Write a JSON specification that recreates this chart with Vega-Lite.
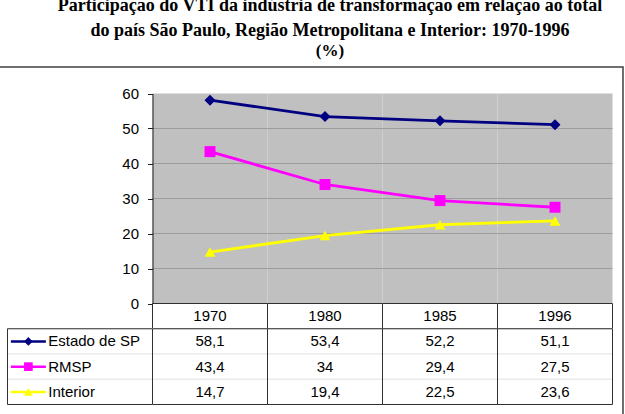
{
  "$schema": "https://vega.github.io/schema/vega-lite/v6.json",
  "width": 626,
  "height": 352,
  "autosize": "none",
  "padding": {"left": -3, "top": 67, "right": 2, "bottom": -5},
  "background": "white",
  "view": {"stroke": "#404040", "strokeWidth": 1.5, "fill": "white"},
  "title": {
    "text": ["Participação do VTI da indústria de transformação em relação ao total", "do país São Paulo, Região Metropolitana e Interior: 1970-1996"],
    "subtitle": "(%)",
    "anchor": "middle",
    "frame": "group",
    "dx": 20,
    "font": "Liberation Serif",
    "fontSize": 18,
    "fontWeight": "bold",
    "color": "black",
    "lineHeight": 25,
    "subtitleFont": "Liberation Serif",
    "subtitleFontSize": 17,
    "subtitleFontWeight": "bold",
    "subtitleColor": "black",
    "subtitlePadding": 3,
    "offset": 8
  },
  "config": {
    "locale": {"number": {"decimal": ",", "thousands": ".", "grouping": [3], "currency": ["R$", ""]}},
    "font": "Liberation Sans"
  },
  "datasets": {
    "vals": [
      {"year": "1970", "series": "Estado de SP", "value": 58.1},
      {"year": "1980", "series": "Estado de SP", "value": 53.4},
      {"year": "1985", "series": "Estado de SP", "value": 52.2},
      {"year": "1996", "series": "Estado de SP", "value": 51.1},
      {"year": "1970", "series": "RMSP", "value": 43.4},
      {"year": "1980", "series": "RMSP", "value": 34},
      {"year": "1985", "series": "RMSP", "value": 29.4},
      {"year": "1996", "series": "RMSP", "value": 27.5},
      {"year": "1970", "series": "Interior", "value": 14.7},
      {"year": "1980", "series": "Interior", "value": 19.4},
      {"year": "1985", "series": "Interior", "value": 22.5},
      {"year": "1996", "series": "Interior", "value": 23.6}
    ],
    "years": [{"year": "1970"}, {"year": "1980"}, {"year": "1985"}, {"year": "1996"}],
    "series": [{"series": "Estado de SP"}, {"series": "RMSP"}, {"series": "Interior"}],
    "grid": [{"v": 10}, {"v": 20}, {"v": 30}, {"v": 40}, {"v": 50}],
    "one": [{"id": 1}]
  },
  "layer": [
    {
      "layer": [
        {
          "data": {"name": "years"},
          "mark": {"type": "rect", "fill": "#c0c0c0"},
          "encoding": {
            "x": {"field": "year", "type": "ordinal", "scale": {"type": "band", "domain": ["1970", "1980", "1985", "1996"], "range": [155.5, 615.5], "paddingInner": 0, "paddingOuter": 0}, "axis": null},
            "y": {"datum": 0, "type": "quantitative", "title": null, "scale": {"domain": [0, 60], "range": [236.5, 26.5], "nice": false, "zero": true},
              "axis": {"title": null, "values": [0, 10, 20, 30, 40, 50, 60], "offset": -155.5, "grid": false, "zindex": 1, "domainColor": "#202020", "domainWidth": 1, "tickColor": "#202020", "tickSize": 5, "labelFont": "Liberation Sans", "labelFontSize": 15, "labelColor": "black", "labelPadding": 9}},
            "y2": {"datum": 60}
          }
        },
        {
          "data": {"name": "grid"},
          "mark": {"type": "rule", "color": "#9c9c9c", "strokeWidth": 1},
          "encoding": {
            "x": {"datum": "1970", "type": "ordinal", "bandPosition": 0},
            "x2": {"datum": "1996", "bandPosition": 1},
            "y": {"field": "v", "type": "quantitative", "title": null}
          }
        },
        {
          "data": {"name": "vals"},
          "mark": {"type": "line", "strokeWidth": 2.8},
          "encoding": {
            "x": {"field": "year", "type": "ordinal"},
            "y": {"field": "value", "type": "quantitative", "title": null},
            "color": {"field": "series", "type": "nominal", "scale": {"domain": ["Estado de SP", "RMSP", "Interior"], "range": ["#000080", "#ff00ff", "#ffff00"]}, "legend": null}
          }
        },
        {
          "data": {"name": "vals"},
          "mark": {"type": "point", "filled": true, "opacity": 1, "size": 120},
          "encoding": {
            "x": {"field": "year", "type": "ordinal"},
            "y": {"field": "value", "type": "quantitative", "title": null},
            "color": {"field": "series", "type": "nominal", "legend": null},
            "shape": {"field": "series", "type": "nominal", "scale": {"domain": ["Estado de SP", "RMSP", "Interior"], "range": ["diamond", "square", "triangle-up"]}, "legend": null}
          }
        }
      ]
    },
    {
      "layer": [
        {
          "layer": [
            {
              "data": {"name": "years"},
              "mark": {"type": "rect", "fill": "white", "stroke": "#303030", "strokeWidth": 1},
              "encoding": {
                "x": {"field": "year", "type": "ordinal", "scale": {"type": "band", "domain": ["1970", "1980", "1985", "1996"], "range": [155.5, 615.5], "paddingInner": 0, "paddingOuter": 0}, "axis": null},
                "y": {"datum": "header", "type": "nominal", "scale": {"type": "band", "domain": ["header", "Estado de SP", "RMSP", "Interior"], "range": [236.5, 337.5], "paddingInner": 0, "paddingOuter": 0}, "axis": null}
              }
            },
            {
              "data": {"name": "vals"},
              "mark": {"type": "rect", "fill": "white", "stroke": "#e6e6e6", "strokeWidth": 1},
              "encoding": {
                "x": {"field": "year", "type": "ordinal"},
                "y": {"field": "series", "type": "nominal"}
              }
            },
            {
              "data": {"name": "years"},
              "mark": {"type": "rect", "fill": null, "fillOpacity": 0, "stroke": "#303030", "strokeWidth": 1},
              "encoding": {
                "x": {"field": "year", "type": "ordinal"},
                "y": {"datum": "Estado de SP", "type": "nominal", "bandPosition": 0},
                "y2": {"datum": "Interior", "bandPosition": 1}
              }
            },
            {
              "data": {"name": "years"},
              "mark": {"type": "text", "font": "Liberation Sans", "fontSize": 15, "color": "black", "baseline": "middle"},
              "encoding": {
                "x": {"field": "year", "type": "ordinal"},
                "y": {"datum": "header", "type": "nominal"},
                "text": {"field": "year"}
              }
            },
            {
              "data": {"name": "vals"},
              "mark": {"type": "text", "font": "Liberation Sans", "fontSize": 15, "color": "black", "baseline": "middle"},
              "encoding": {
                "x": {"field": "year", "type": "ordinal"},
                "y": {"field": "series", "type": "nominal"},
                "text": {"field": "value", "type": "quantitative", "format": ".1~f"}
              }
            }
          ]
        },
        {
          "layer": [
            {
              "data": {"name": "series"},
              "mark": {"type": "rect", "fill": "white", "stroke": "#e6e6e6", "strokeWidth": 1},
              "encoding": {
                "x": {"datum": "legend", "type": "nominal", "scale": {"type": "band", "domain": ["legend"], "range": [10.5, 155.5], "paddingInner": 0, "paddingOuter": 0}, "axis": null},
                "y": {"field": "series", "type": "nominal"}
              }
            },
            {
              "data": {"name": "one"},
              "mark": {"type": "rect", "fill": null, "fillOpacity": 0, "stroke": "#303030", "strokeWidth": 1},
              "encoding": {
                "x": {"datum": "legend", "type": "nominal"},
                "y": {"datum": "Estado de SP", "type": "nominal", "bandPosition": 0},
                "y2": {"datum": "Interior", "bandPosition": 1}
              }
            },
            {
              "data": {"name": "series"},
              "mark": {"type": "point", "shape": "M-1,0L1,0", "filled": false, "strokeWidth": 2.5, "size": 1225, "opacity": 1},
              "encoding": {
                "x": {"datum": "legend", "type": "nominal", "bandPosition": 0.144},
                "y": {"field": "series", "type": "nominal"},
                "color": {"field": "series", "type": "nominal", "legend": null}
              }
            },
            {
              "data": {"name": "series"},
              "mark": {"type": "point", "filled": true, "opacity": 1, "size": 75},
              "encoding": {
                "x": {"datum": "legend", "type": "nominal", "bandPosition": 0.144},
                "y": {"field": "series", "type": "nominal"},
                "color": {"field": "series", "type": "nominal", "legend": null},
                "shape": {"field": "series", "type": "nominal", "legend": null}
              }
            },
            {
              "data": {"name": "series"},
              "mark": {"type": "text", "font": "Liberation Sans", "fontSize": 15, "color": "black", "baseline": "middle", "align": "left"},
              "encoding": {
                "x": {"datum": "legend", "type": "nominal", "bandPosition": 0.281},
                "y": {"field": "series", "type": "nominal"},
                "text": {"field": "series"}
              }
            }
          ]
        }
      ],
      "resolve": {"scale": {"x": "independent"}}
    }
  ],
  "resolve": {"scale": {"x": "independent", "y": "independent"}, "axis": {"x": "independent", "y": "independent"}}
}
